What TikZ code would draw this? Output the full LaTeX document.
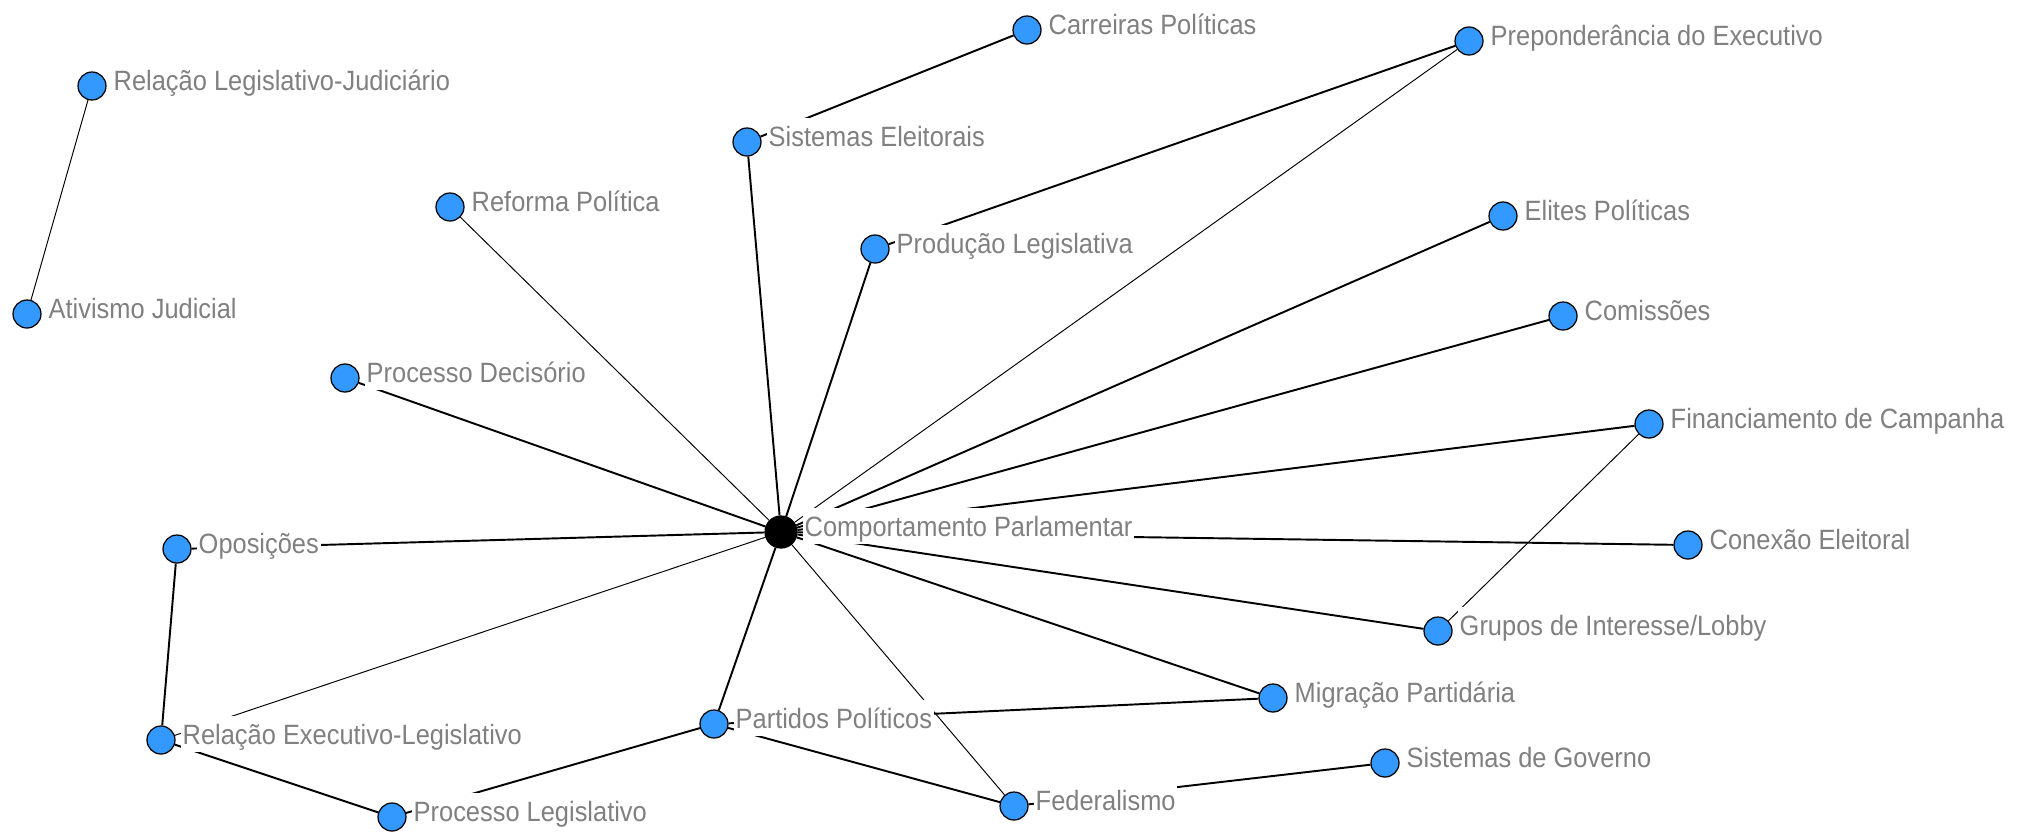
\documentclass[tikz,border=0pt]{standalone}
\usepackage{fontspec}
\setmainfont{Liberation Sans}[FakeStretch=0.91]
\usetikzlibrary{backgrounds}
\definecolor{nodeblue}{RGB}{51,153,255}
\definecolor{txtgray}{RGB}{128,128,128}

\begin{document}
\begin{tikzpicture}[
			x=0.02cm, y=-0.02cm,
			vertex/.style={draw=black, fill=nodeblue, circle, inner sep=0pt, minimum size=0.56cm, line width=0.7pt},
			hub/.style={vertex, fill=black, minimum size=0.64cm},
			lbl/.style={text=txtgray, fill=white, inner xsep=1pt, inner ysep=3.5pt,
				text height=12.5pt, text depth=1pt, anchor=base west,
				xshift=0.1cm, yshift=-0.09cm, font=\fontsize{15.9}{19}\selectfont},
			weak/.style={line width=0.55pt},
			strong/.style={line width=1.1pt}]
		\useasboundingbox (0,0) rectangle (2020,833);

		\node[hub,    label={[lbl]east:Comportamento Parlamentar}]      (cp)    at (781,532) {};
		\node[vertex, label={[lbl]east:Relação Legislativo-Judiciário}] (rlj)   at (92,86)   {};
		\node[vertex, label={[lbl]east:Ativismo Judicial}]              (atj)   at (27,314)  {};
		\node[vertex, label={[lbl]east:Carreiras Políticas}]            (carr)  at (1027,30) {};
		\node[vertex, label={[lbl]east:Preponderância do Executivo}]    (prep)  at (1469,41) {};
		\node[vertex, label={[lbl]east:Sistemas Eleitorais}]            (sisel) at (747,142) {};
		\node[vertex, label={[lbl]east:Reforma Política}]               (refp)  at (450,207) {};
		\node[vertex, label={[lbl]east:Produção Legislativa}]           (prodl) at (875,249) {};
		\node[vertex, label={[lbl]east:Elites Políticas}]               (elit)  at (1503,216) {};
		\node[vertex, label={[lbl]east:Comissões}]                      (comis) at (1563,316) {};
		\node[vertex, label={[lbl]east:Processo Decisório}]             (procd) at (345,378) {};
		\node[vertex, label={[lbl]east:Financiamento de Campanha}]      (finc)  at (1649,424) {};
		\node[vertex, label={[lbl]east:Oposições}]                      (opos)  at (177,549) {};
		\node[vertex, label={[lbl]east:Conexão Eleitoral}]              (conex) at (1688,545) {};
		\node[vertex, label={[lbl]east:Grupos de Interesse/Lobby}]      (grup)  at (1438,631) {};
		\node[vertex, label={[lbl]east:Migração Partidária}]            (migr)  at (1273,698) {};
		\node[vertex, label={[lbl]east:Relação Executivo-Legislativo}]  (rel)   at (161,740) {};
		\node[vertex, label={[lbl]east:Partidos Políticos}]             (part)  at (714,724) {};
		\node[vertex, label={[lbl]east:Sistemas de Governo}]            (sisg)  at (1385,763) {};
		\node[vertex, label={[lbl]east:Federalismo}]                    (fed)   at (1014,806) {};
		\node[vertex, label={[lbl]east:Processo Legislativo}]           (procl) at (392,817) {};

		\begin{pgfonlayer}{background}
			\foreach \from/\to in {sisel/carr, prodl/prep, sisel/cp, prodl/cp, elit/cp, comis/cp,
					procd/cp, finc/cp, opos/cp, conex/cp, grup/cp, migr/cp, part/cp, opos/rel,
					rel/procl, procl/part, part/migr, part/fed, fed/sisg}
				\draw[strong] (\from) -- (\to);
			\foreach \from/\to in {rlj/atj, prep/cp, refp/cp, fed/cp, finc/grup, rel/cp}
				\draw[weak] (\from) -- (\to);
		\end{pgfonlayer}
	\end{tikzpicture}
\end{document}
